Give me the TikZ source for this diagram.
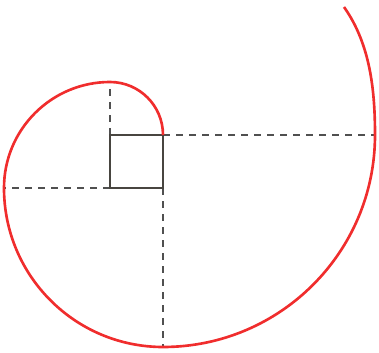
\documentclass[tikz,border=0pt]{standalone}
\definecolor{spirale}{RGB}{240,45,45}
\definecolor{carre}{RGB}{72,69,64}
\definecolor{trait}{RGB}{80,80,80}
\tikzset{every picture/.style={line width=0.75pt}}
\tikzset{pointille/.style={trait, line width=0.8pt, dash pattern=on 3.8pt off 3.6pt}}

\begin{document}
\begin{tikzpicture}[x=0.02cm,y=0.02cm]
  \useasboundingbox (0,0) rectangle (379,352);
  % --- le carré et ses sommets ---
  \coordinate (A) at (110,217);
  \coordinate (B) at (163,217);
  \coordinate (C) at (163,164);
  \coordinate (D) at (110,164);
  % --- pieds des tangentes ---
  \coordinate (A1) at (110,270);
  \coordinate (D1) at (4,164);
  \coordinate (C1) at (163,5);
  \coordinate (B1) at (375,217);
  \coordinate (E) at (344,345);
  \draw[pointille] (A) -- (A1);
  \draw[pointille] (D) -- (D1);
  \draw[pointille] (C) -- (C1);
  \draw[pointille] (B) -- (B1);
  \draw[carre, line width=1.6pt] (A) -- (B) -- (C) -- (D) -- cycle;
  % --- la développante ---
  \draw[spirale, line width=1.5pt] (B)
    arc[start angle=0, end angle=90, radius=53]
    arc[start angle=90, end angle=180, radius=106]
    arc[start angle=180, end angle=270, radius=159]
    arc[start angle=270, end angle=360, radius=212]
    .. controls (375,261) and (370.5,307.6) .. (E);
\end{tikzpicture}
\end{document}
